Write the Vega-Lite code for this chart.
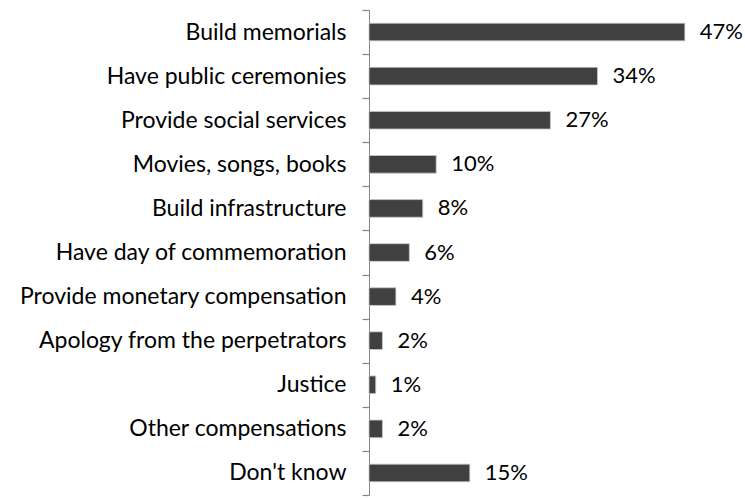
{
  "$schema": "https://vega.github.io/schema/vega-lite/v6.json",
  "width": 336,
  "height": 485,
  "autosize": {"type": "none"},
  "padding": {"left": 369, "top": 10, "right": 40, "bottom": 3},
  "background": "white",
  "config": {"view": {"stroke": null}, "font": "Lato"},
  "data": {
    "values": [
      {"item": "Build memorials", "pct": 0.47},
      {"item": "Have public ceremonies", "pct": 0.34},
      {"item": "Provide social services", "pct": 0.27},
      {"item": "Movies, songs, books", "pct": 0.10},
      {"item": "Build infrastructure", "pct": 0.08},
      {"item": "Have day of commemoration", "pct": 0.06},
      {"item": "Provide monetary compensation", "pct": 0.04},
      {"item": "Apology from the perpetrators", "pct": 0.02},
      {"item": "Justice", "pct": 0.01},
      {"item": "Other compensations", "pct": 0.02},
      {"item": "Don't know", "pct": 0.15}
    ]
  },
  "encoding": {
    "y": {
      "field": "item",
      "type": "nominal",
      "sort": null,
      "scale": {"paddingInner": 0, "paddingOuter": 0},
      "axis": {
        "title": null,
        "domainColor": "#868686",
        "ticks": true,
        "tickColor": "#868686",
        "tickOpacity": 1,
        "tickWidth": 1.2,
        "tickSize": 7,
        "tickBand": "extent",
        "tickExtra": true,
        "labelPadding": 16,
        "labelFontSize": 23,
        "labelLimit": 400,
        "labelColor": "#000000",
        "labelFont": "Lato"
      }
    },
    "x": {
      "field": "pct",
      "type": "quantitative",
      "scale": {"domain": [0, 0.5]},
      "axis": null
    }
  },
  "layer": [
    {
      "mark": {"type": "bar", "height": {"band": 0.4}, "color": "#404040", "stroke": "#c8c8c8", "strokeWidth": 0.8}
    },
    {
      "mark": {"type": "text", "align": "left", "baseline": "middle", "dx": 15, "fontSize": 22, "color": "#000000", "font": "Lato"},
      "encoding": {"text": {"field": "pct", "type": "quantitative", "format": ".0%"}}
    }
  ]
}
